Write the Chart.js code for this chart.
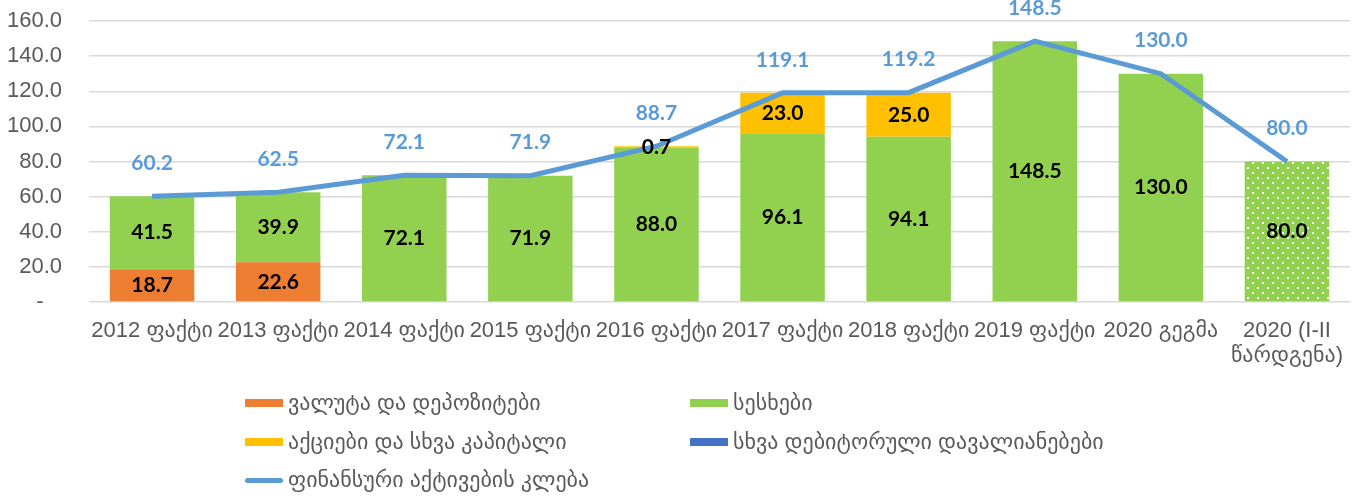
<!DOCTYPE html>
<html lang="ka">
<head>
  <meta charset="UTF-8" />
  <title>ფინანსური აქტივები</title>
  <script src="https://cdn.jsdelivr.net/npm/chart.js"></script>
  <style>
    body { margin: 0; background: #fff; }
    .wrap { position: relative; width: 1355px; height: 496px; }
    #legend {
      position: absolute; left: 245px; top: 384px;
      display: grid; grid-template-columns: 445px auto; grid-auto-rows: 38.5px;
      font: 22px 'Liberation Sans', 'DejaVu Sans', sans-serif; color: #595959;
    }
    .item { display: flex; align-items: center; white-space: nowrap; }
    .swatch { width: 38px; height: 8px; margin-right: 5px; flex: none; }
    .swatch.line { height: 5px; border-radius: 3px; }
  </style>
</head>
<body>
  <div class="wrap">
    <canvas id="chart"></canvas>
    <div id="legend"></div>
  </div>

  <script>
    // values
    const categories = [
      '2012 ფაქტი', '2013 ფაქტი', '2014 ფაქტი', '2015 ფაქტი', '2016 ფაქტი',
      '2017 ფაქტი', '2018 ფაქტი', '2019 ფაქტი', '2020 გეგმა', ['2020 (I-II', 'წარდგენა)']
    ];
    const currencyDeposits = [18.7, 22.6, 0, 0, 0, 0, 0, 0, 0, 0];
    const loans = [41.5, 39.9, 72.1, 71.9, 88.0, 96.1, 94.1, 148.5, 130.0, 80.0];
    const sharesCapital = [0, 0, 0, 0, 0.7, 23.0, 25.0, 0, 0, 0];
    const otherReceivables = [0, 0, 0, 0, 0, 0, 0, 0, 0, 0];
    const assetDecrease = [60.2, 62.5, 72.1, 71.9, 88.7, 119.1, 119.2, 148.5, 130.0, 80.0];

    const green = '#92D050';
    const lineBlue = '#5B9BD5';

    // dotted fill for the last (projected) bar
    function dotPattern() {
      const c = document.createElement('canvas');
      c.width = 10; c.height = 10;
      const p = c.getContext('2d');
      p.fillStyle = green;
      p.fillRect(0, 0, 10, 10);
      p.fillStyle = '#fff';
      p.fillRect(2, 2, 2, 2);
      p.fillRect(7, 7, 2, 2);
      return p.createPattern(c, 'repeat');
    }
    const loanColors = loans.map((v, i) => i === loans.length - 1 ? dotPattern() : green);

    const valueLabels = {
      id: 'valueLabels',
      afterDatasetsDraw(chart) {
        const ctx = chart.ctx;
        chart.data.datasets.forEach((ds, i) => {
          const meta = chart.getDatasetMeta(i);
          meta.data.forEach((el, j) => {
            const v = ds.data[j];
            if (!v) return;
            ctx.save();
            ctx.font = 'bold 21px Lato';
            ctx.textAlign = 'center';
            ctx.textBaseline = 'middle';
            if (ds.type === 'line') {
              ctx.fillStyle = lineBlue;
              ctx.fillText(v.toFixed(1), el.x, el.y - 33);
            } else {
              const { y, base } = el.getProps(['y', 'base'], true);
              ctx.fillStyle = '#000';
              ctx.fillText(v.toFixed(1), el.x, (y + base) / 2);
            }
            ctx.restore();
          });
        });
      }
    };

    const font = { family: "'Liberation Sans', 'DejaVu Sans', sans-serif", size: 22, lineHeight: 1.15 };

    const chart = new Chart(document.getElementById('chart'), {
      data: {
        labels: categories,
        datasets: [
          { type: 'bar', label: 'ვალუტა და დეპოზიტები', data: currencyDeposits, backgroundColor: '#ED7D31' },
          { type: 'bar', label: 'სესხები', data: loans, backgroundColor: loanColors, legendColor: green },
          { type: 'bar', label: 'აქციები და სხვა კაპიტალი', data: sharesCapital, backgroundColor: '#FFC000' },
          { type: 'bar', label: 'სხვა დებიტორული დავალიანებები', data: otherReceivables, backgroundColor: '#4472C4' },
          {
            type: 'line', label: 'ფინანსური აქტივების კლება', data: assetDecrease,
            borderColor: lineBlue, borderWidth: 5, pointRadius: 0, tension: 0,
            order: -1, stack: 'total', clip: false
          }
        ]
      },
      options: {
        responsive: true,
        maintainAspectRatio: false,
        animation: false,
        layout: { padding: { top: 21, right: 5, left: 0, bottom: 0 } },
        datasets: { bar: { barPercentage: 0.67, categoryPercentage: 1 } },
        plugins: { legend: { display: false }, tooltip: { enabled: false } },
        scales: {
          x: {
            stacked: true,
            grid: { display: false },
            border: { display: false },
            ticks: { color: '#595959', font, padding: 8, maxRotation: 0, autoSkip: false },
            afterFit: s => { s.height = 194; s.paddingLeft = 0; s.paddingRight = 0; }
          },
          y: {
            stacked: true,
            min: 0, max: 160,
            grid: { color: '#D9D9D9', lineWidth: 1.5, drawTicks: false },
            border: { display: false },
            ticks: {
              stepSize: 20, color: '#595959', font, padding: 27,
              callback: v => v === 0 ? '-   ' : v.toFixed(1)
            },
            afterFit: s => { s.width = 89; s.paddingTop = 0; s.paddingBottom = 0; }
          }
        }
      },
      plugins: [valueLabels]
    });

    // two-column legend under the chart
    const legend = document.getElementById('legend');
    chart.data.datasets.forEach(ds => {
      const item = document.createElement('div');
      item.className = 'item';
      const sw = document.createElement('span');
      sw.className = 'swatch' + (ds.type === 'line' ? ' line' : '');
      sw.style.background = ds.type === 'line' ? ds.borderColor : (ds.legendColor || ds.backgroundColor);
      item.appendChild(sw);
      item.appendChild(document.createTextNode(ds.label));
      legend.appendChild(item);
    });
  </script>
</body>
</html>
